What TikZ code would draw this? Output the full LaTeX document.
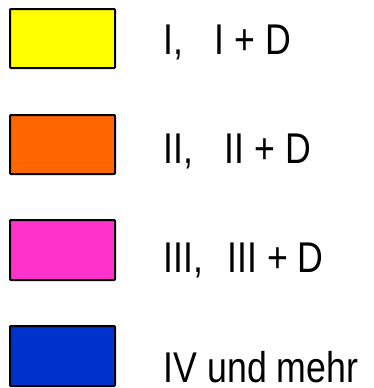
\documentclass[tikz,border=0pt]{standalone}
\usepackage{fontspec}
\setmainfont[FakeStretch=0.83]{Liberation Sans}
\definecolor{cyellow}{HTML}{FFFF00}
\definecolor{corange}{HTML}{FF6600}
\definecolor{cmagenta}{HTML}{FF33CC}
\definecolor{cblue}{HTML}{0033CC}
\begin{document}
\begin{tikzpicture}[x=1pt,y=-1pt,
  swatch/.style={draw=black,line width=2pt,line join=round,rounded corners=0.8pt},
  label/.style={anchor=base west,inner sep=0pt,font=\fontsize{43}{43}\selectfont}]
\useasboundingbox (0,0) rectangle (373,388);
\draw[swatch,fill=cyellow] (10,9) rectangle (115,68);
\draw[swatch,fill=corange] (10,115) rectangle (115,174);
\draw[swatch,fill=cmagenta] (10,220) rectangle (115,280);
\draw[swatch,fill=cblue] (10,326) rectangle (115,386);
\node[label] (l1) at (163.6,54) {I,\hspace{31pt}I + D};
\node[label] (l2) at (163.6,163) {II,\hspace{31pt}II + D};
\node[label] (l3) at (163.6,272) {III,\hspace{24pt}III + D};
\node[label] (l4) at (163.6,382) {IV und mehr};
\end{tikzpicture}
\end{document}
